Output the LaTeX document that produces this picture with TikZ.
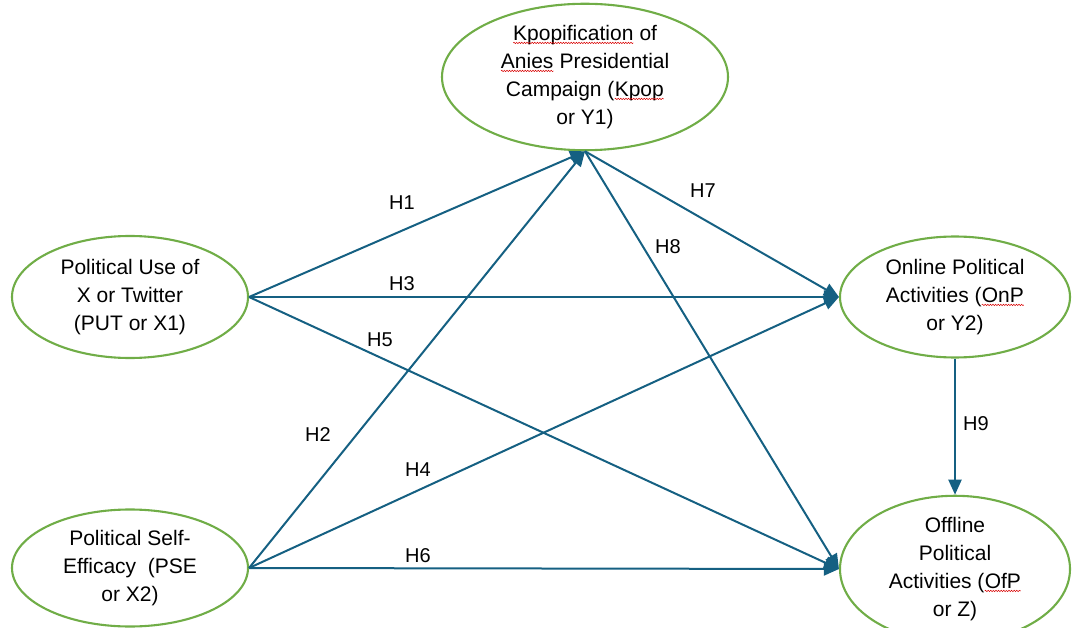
\documentclass[tikz,border=0pt]{standalone}
\usepackage{fontspec}
\setmainfont{Liberation Sans}
\usetikzlibrary{shapes.geometric,arrows.meta,decorations.pathmorphing}
\definecolor{ellgreen}{RGB}{112,173,71}
\definecolor{arrblue}{RGB}{21,96,130}
\newcommand\mkwave[2]{\sbox#1{\fontsize{21}{28}\selectfont\tikz[baseline=(w.base)]{\node[inner sep=0pt,outer sep=0pt](w){#2};\draw[red!85!black,line width=0.5pt,decorate,decoration={snake,amplitude=0.7pt,segment length=2.6pt}] ([yshift=-2.5pt]w.base west)--([yshift=-2.5pt]w.base east);}}}
\newsavebox\bwA \newsavebox\bwB \newsavebox\bwC \newsavebox\bwD \newsavebox\bwE
\mkwave\bwA{Kpopification}
\mkwave\bwB{Anies}
\mkwave\bwC{Kpop}
\mkwave\bwD{OnP}
\mkwave\bwE{OfP}
\begin{document}
\begin{tikzpicture}[x=1pt,y=-1pt,
  ellnode/.style={ellipse, draw=ellgreen, line width=2.1pt, inner sep=0pt, align=center, font=\fontsize{21}{28}\selectfont},
  conn/.style={draw=arrblue, line width=2pt, -{Triangle[length=15pt,width=13pt]}},
  lab/.style={font=\fontsize{20}{22}\selectfont, inner sep=0pt}]
\useasboundingbox (0,0) rectangle (1073,628);
\node[ellnode, minimum width=286pt, minimum height=137pt] (kpop) at (585,77) {\usebox\bwA{} of\\\usebox\bwB{} Presidential\\Campaign (\usebox\bwC\\or Y1)};
\node[ellnode, minimum width=236pt, minimum height=122pt] (put) at (130,297) {Political Use of\\X or Twitter\\(PUT or X1)};
\node[ellnode, minimum width=236pt, minimum height=117pt] (pse) at (130,568) {Political Self-\\Efficacy \ (PSE\\or X2)};
\node[ellnode, minimum width=230pt, minimum height=121pt] (onp) at (955,297) {Online Political\\Activities (\usebox\bwD\\or Y2)};
\node[ellnode, minimum width=230pt, minimum height=118pt] (ofp) at (955,569) {Offline\\Political\\Activities (\usebox\bwE\\or Z)};
\draw[conn] (put.east) -- (kpop.south);
\draw[conn] (pse.east) -- (kpop.south);
\draw[conn] (put.east) -- (onp.west);
\draw[conn] (pse.east) -- (onp.west);
\draw[conn] (put.east) -- (ofp.west);
\draw[conn] (pse.east) -- (ofp.west);
\draw[conn] (kpop.south) -- (onp.west);
\draw[conn] (kpop.south) -- (ofp.west);
\draw[conn] (onp.south) -- (ofp.north);
\node[lab] (h1) at (402,203) {H1};
\node[lab] (h3) at (402,284) {H3};
\node[lab] (h5) at (380,340) {H5};
\node[lab] (h2) at (318,435) {H2};
\node[lab] (h4) at (418,470) {H4};
\node[lab] (h6) at (418,556) {H6};
\node[lab] (h7) at (703,191) {H7};
\node[lab] (h8) at (668,247) {H8};
\node[lab] (h9) at (976,424) {H9};
\end{tikzpicture}
\end{document}
